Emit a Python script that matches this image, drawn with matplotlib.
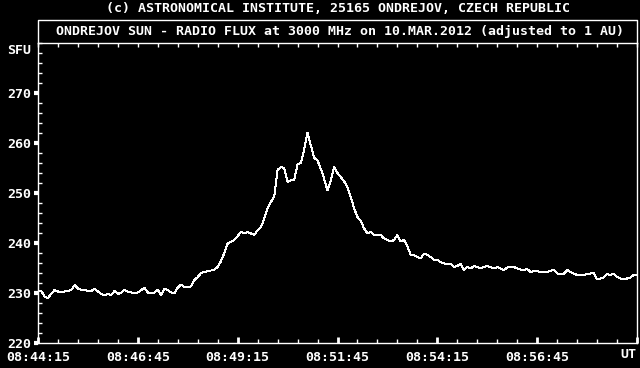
import numpy as np
import matplotlib
matplotlib.use("Agg")
import matplotlib.pyplot as plt
from matplotlib.lines import Line2D
from matplotlib.ticker import MultipleLocator

header = "(c) ASTRONOMICAL INSTITUTE, 25165 ONDREJOV, CZECH REPUBLIC"
title = "ONDREJOV SUN - RADIO FLUX at 3000 MHz on 10.MAR.2012 (adjusted to 1 AU)"

# one sample every 5 s, starting 08:44:15 UT
step_s = 5
flux_sfu = [
    230.3, 230.4, 229.3, 229.0, 229.9, 230.6, 230.3, 230.1, 230.3, 230.4, 230.6,
    231.6, 230.9, 230.6, 230.7, 230.4, 230.4, 230.9, 230.3, 229.8, 229.6, 229.8,
    229.6, 230.4, 229.8, 230.1, 230.6, 230.3, 230.1, 229.9, 230.1,
    230.6, 231.0, 230.1, 229.9, 230.1, 230.6, 229.6, 230.9, 230.6, 230.1, 229.9,
    231.1, 231.7, 231.1, 231.2, 231.3, 232.6, 233.2, 234.0, 234.2, 234.4, 234.5,
    234.7, 235.2, 236.4, 238.0, 239.9, 240.2, 240.6, 241.4,
    242.2, 241.9, 242.2, 241.9, 241.6, 242.6, 243.2, 244.9, 246.9, 248.2, 249.3,
    254.6, 255.2, 255.0, 252.2, 252.5, 252.6, 255.8, 256.0, 258.8, 262.1, 259.5,
    257.0, 256.5, 254.8, 252.8, 250.5, 252.6, 255.2, 254.0,
    253.2, 252.3, 251.2, 249.2, 246.9, 245.2, 244.4, 242.9, 241.9, 242.2, 241.6,
    241.6, 241.6, 240.9, 240.6, 240.3, 240.6, 241.6, 240.3, 240.6, 239.3, 237.6,
    237.6, 237.2, 236.9, 237.9, 237.6, 237.2, 236.6, 236.6,
    236.2, 235.9, 235.8, 235.9, 235.2, 235.4, 235.9, 234.6, 235.2, 234.9, 235.4,
    235.2, 234.9, 235.2, 235.4, 235.2, 234.9, 235.2, 234.9, 234.6, 235.1, 235.2,
    235.2, 234.9, 234.7, 234.6, 234.8, 234.2, 234.4, 234.4,
    234.1, 234.2, 234.2, 234.4, 234.7, 233.9, 233.8, 233.8, 234.6, 234.2, 233.9,
    233.6, 233.6, 233.6, 233.8, 233.9, 234.0, 232.7, 232.9, 233.1, 233.8, 233.6,
    233.9, 233.2, 232.9, 232.7, 232.9, 233.1, 233.6, 233.6,
]

time_ticks_s = [0, 150, 300, 450, 600, 750, 900]
time_labels = ["08:44:15", "08:46:45", "08:49:15", "08:51:45", "08:54:15", "08:56:45", ""]
sfu_ticks = [220, 230, 240, 250, 260, 270]

t = np.arange(len(flux_sfu)) * step_s

plt.rcParams["font.family"] = "DejaVu Sans Mono"
plt.rcParams["font.weight"] = "bold"
fs = 9.5

W, H = 640, 368
fig = plt.figure(figsize=(W / 100, H / 100), dpi=100, facecolor="black")
ax = fig.add_axes([38 / W, 25 / H, 599 / W, 300 / H])
ax.set_facecolor("black")

ax.plot(t, flux_sfu, color="white", lw=0.7, antialiased=False)

ax.set_xlim(0, 900)
ax.set_ylim(220, 280)
for s in ax.spines.values():
    s.set_color("white")
    s.set_linewidth(1.0)

ax.set_xticks(time_ticks_s)
ax.set_xticklabels(time_labels)
ax.xaxis.set_minor_locator(MultipleLocator(30))
ax.set_yticks(sfu_ticks)
ax.set_yticklabels([str(v) for v in sfu_ticks])
ax.yaxis.set_minor_locator(MultipleLocator(2))

ax.tick_params(axis="x", which="major", direction="in", length=4, width=2,
               colors="white", labelsize=fs, pad=6)
ax.tick_params(axis="x", which="minor", direction="in", length=3, width=1,
               colors="white")
ax.tick_params(axis="y", which="major", direction="out", length=3, width=3,
               colors="white", labelsize=fs, pad=2)
ax.tick_params(axis="y", which="minor", direction="in", length=3, width=1,
               colors="white")

# small even ticks under the title box
top = ax.twiny()
top.set_xlim(0, 900)
top.xaxis.set_major_locator(MultipleLocator(30))
top.tick_params(axis="x", direction="in", length=3, width=1, colors="white",
                labeltop=False)
for s in top.spines.values():
    s.set_visible(False)

# title box above the plot
fig.add_artist(Line2D([38 / W, 38 / W, 637 / W, 637 / W],
                      [1 - 43 / H, 1 - 20 / H, 1 - 20 / H, 1 - 43 / H],
                      color="white", lw=1.0))
fig.text(338 / W, 1 - 9 / H, header, ha="center", va="center", color="white", fontsize=fs)
fig.text(340 / W, 1 - 32 / H, title, ha="center", va="center", color="white", fontsize=fs)
fig.text(31 / W, 1 - 50 / H, "SFU", ha="right", va="center", color="white", fontsize=fs)
fig.text(636 / W, 1 - 355 / H, "UT", ha="right", va="center", color="white", fontsize=fs)

fig.savefig("out.png", dpi=100, facecolor="black")
